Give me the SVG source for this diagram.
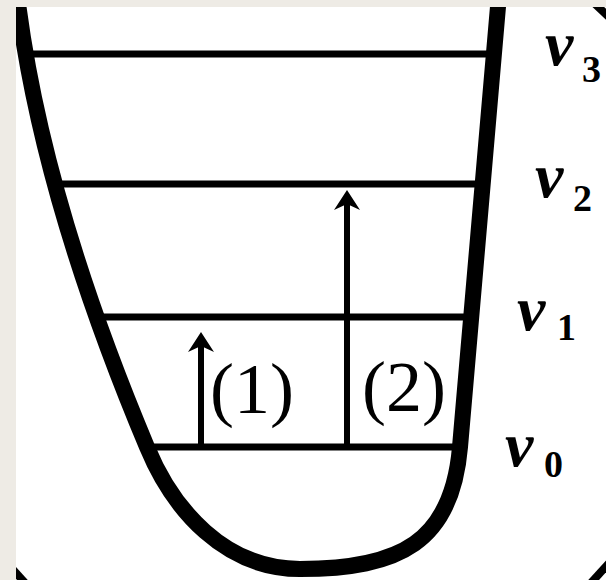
<svg xmlns="http://www.w3.org/2000/svg" width="606" height="580" viewBox="0 0 606 580">
  <style>
    .wall { fill: none; stroke: #000; stroke-width: 16; stroke-linejoin: round; }
    .level { stroke: #000; stroke-width: 7; }
    .shaft { stroke: #000; stroke-width: 6; }
    .nu { font-family: "Liberation Serif", "DejaVu Serif", serif; font-style: italic; font-weight: bold; font-size: 64px; fill: #000; }
    .sub { font-family: "Liberation Serif", "DejaVu Serif", serif; font-weight: bold; font-size: 38px; fill: #000; }
    .tlabel { font-family: "Liberation Serif", "DejaVu Serif", serif; font-size: 72px; fill: #000; text-anchor: middle; }
  </style>
  <defs>
    <clipPath id="paper">
      <rect x="16" y="7" width="590" height="573"/>
    </clipPath>
    <marker id="head" viewBox="0 0 20 26" refX="6" refY="13" markerWidth="20" markerHeight="26" markerUnits="userSpaceOnUse" orient="auto">
      <path d="M0,0 L20,13 L0,26 L6,13 Z" fill="#000"/>
    </marker>
  </defs>
  <rect x="0" y="0" width="606" height="580" fill="#eeebe5"/>
  <rect x="16" y="7" width="590" height="573" fill="#fff"/>
  <g clip-path="url(#paper)">
    <g id="level-v3">
      <line class="level" x1="25" y1="54" x2="494" y2="54"/>
      <text class="nu" x="545" y="65">ν</text>
      <text class="sub" x="582" y="82">3</text>
    </g>
    <g id="level-v2">
      <line class="level" x1="57" y1="184" x2="482" y2="184"/>
      <text class="nu" x="535" y="197">ν</text>
      <text class="sub" x="573" y="211">2</text>
    </g>
    <g id="level-v1">
      <line class="level" x1="97" y1="317" x2="471" y2="317"/>
      <text class="nu" x="517" y="330">ν</text>
      <text class="sub" x="557" y="340">1</text>
    </g>
    <g id="level-v0">
      <line class="level" x1="147" y1="447" x2="460" y2="447"/>
      <text class="nu" x="505" y="466">ν</text>
      <text class="sub" x="544" y="477">0</text>
    </g>
    <g id="well">
      <path class="wall" d="M17,-5 C35,145 84,297 147,447 C173,510 225,569 300,569 C400,569 452,542 460,447 L499,-5"/>
    </g>
    <g id="connectors">
      <line class="shaft" x1="201" y1="447" x2="201" y2="346" marker-end="url(#head)"/>
      <line class="shaft" x1="347" y1="447" x2="347" y2="204" marker-end="url(#head)"/>
    </g>
    <g id="transition-labels">
      <text class="tlabel" x="252" y="413">(1)</text>
      <text class="tlabel" x="404" y="411">(2)</text>
    </g>
    <g id="edge-fragments" stroke="#000" stroke-width="8">
      <line x1="594" y1="3" x2="610" y2="18"/>
      <line x1="610" y1="562" x2="590" y2="584"/>
      <line x1="8" y1="564" x2="26" y2="584"/>
    </g>
  </g>
</svg>
